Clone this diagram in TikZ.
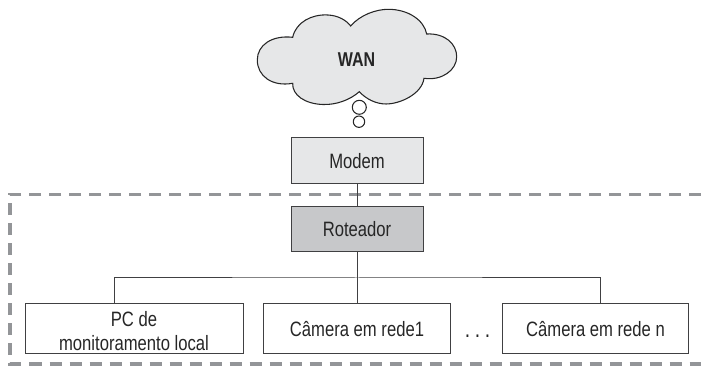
\documentclass[tikz,border=0pt]{standalone}
\usepackage{fontspec}
\setmainfont[FakeStretch=0.8]{Liberation Sans}
\definecolor{boxedge}{HTML}{404042}
\definecolor{lightfill}{HTML}{E6E7E8}
\definecolor{darkfill}{HTML}{C7C8CA}
\definecolor{dashgray}{HTML}{939598}
\tikzset{
  netbox/.style={draw=boxedge,line width=0.75pt,anchor=center,inner sep=0pt,align=center,font=\fontsize{15.6pt}{17.5pt}\selectfont,text=black!85},
  wire/.style={draw=boxedge,line width=0.75pt},
}
\begin{document}
\begin{tikzpicture}[x=0.75pt,y=-0.75pt]
\useasboundingbox (0,0) rectangle (701,366);
% dashed boundary
\draw[dashgray,line width=2.6pt,dash pattern=on 9pt off 6pt] (701,194.5) -- (10,194.5) -- (10,364) -- (701,364);
% cloud
\draw[fill=lightfill,draw=black!85,line width=0.8pt]
  (350.7,26) .. controls (360,15) and (376,9.3) .. (388.3,9.3)
  .. controls (408,9.3) and (424,20) .. (426.7,34)
  .. controls (445,33) and (456.7,44) .. (456.7,56.7)
  .. controls (456.7,70) and (442,81) .. (424,78.3)
  .. controls (422,94) and (400,104) .. (386,104)
  .. controls (376,104) and (366,99) .. (359.3,91.7)
  .. controls (350,100) and (336,105) .. (323,104.5)
  .. controls (305,104) and (292,95) .. (292.7,83.3)
  .. controls (272,87) and (257.3,76) .. (257.3,60)
  .. controls (257.3,45) and (272,35) .. (292.7,37.3)
  .. controls (296,22) and (312,14) .. (328,15)
  .. controls (338,15.5) and (346,20) .. (350.7,26) -- cycle;
\node[font=\fontsize{15pt}{17pt}\selectfont\bfseries,text=black!85,inner sep=0pt] (wan) at (356.5,60) {WAN};
\draw[fill=white,draw=black!85,line width=0.8pt] (359.3,107.3) circle (7);
\draw[fill=white,draw=black!85,line width=0.8pt] (359,121.7) circle (5.7);
% boxes
\node[netbox,fill=lightfill,minimum width=99pt,minimum height=34.5pt] (modem) at (357,161) {Modem};
\node[netbox,fill=darkfill,minimum width=99pt,minimum height=33.75pt] (router) at (357,229.5) {Roteador};
\node[netbox,minimum width=163.5pt,minimum height=37.5pt] (pc) at (134,329) {\rule{0pt}{14.2pt}PC de\\monitoramento local};
\node[netbox,minimum width=140pt,minimum height=37.5pt] (cam1) at (357,329) {Câmera em rede1};
\node[netbox,minimum width=140pt,minimum height=37.5pt] (camn) at (595.5,329) {Câmera em rede n};
\node[font=\fontsize{18pt}{20pt}\selectfont,text=black!85,inner sep=0pt,anchor=base] (dots) at (477.5,338) {.\hspace{3.5pt}.\hspace{3.5pt}.};
% connectors
\coordinate (pctop) at (114,304);
\coordinate (camtop) at (600,304);
\coordinate (bus) at (357,278);
\draw[wire] (modem) -- (router);
\draw[wire] (router) -- (cam1);
\draw[wire] (pctop) |- (bus) -| (camtop);
\end{tikzpicture}
\end{document}
